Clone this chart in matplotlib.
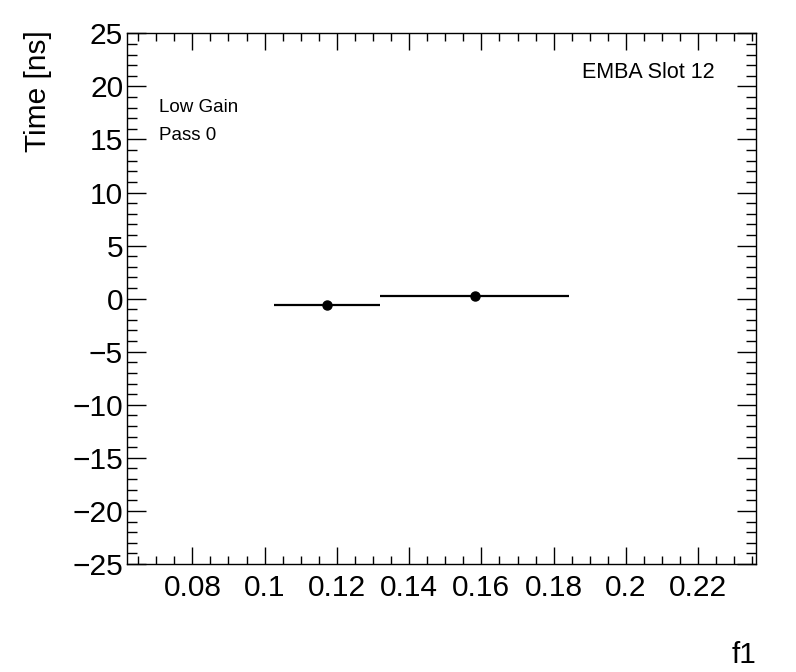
import matplotlib
matplotlib.use("Agg")
import matplotlib.pyplot as plt
from matplotlib.ticker import MultipleLocator

plt.rcParams['font.family'] = ['Liberation Sans', 'DejaVu Sans']

# data
x_vals = [0.1173, 0.1581]
x_errs = [0.0147, 0.0261]
y_vals = [-0.59, 0.25]

fig = plt.figure(figsize=(7.96, 6.72), dpi=100)
ax = fig.add_axes([127.3 / 796, 1 - 564 / 672, (756 - 127.3) / 796, (564 - 33.3) / 672])

ax.errorbar(x_vals, y_vals, xerr=x_errs, fmt='o', color='black',
            markersize=6.5, elinewidth=1.6, capsize=0)

ax.set_xlim(0.062, 0.236)
ax.set_ylim(-25, 25)

ax.xaxis.set_major_locator(MultipleLocator(0.02))
ax.xaxis.set_minor_locator(MultipleLocator(0.005))
ax.yaxis.set_major_locator(MultipleLocator(5))
ax.yaxis.set_minor_locator(MultipleLocator(1))

ax.tick_params(which='both', direction='in', top=True, right=True,
               width=1, labelsize=21.5, color='black')
ax.tick_params(axis='x', which='major', length=12, pad=7)
ax.tick_params(axis='x', which='minor', length=6)
ax.tick_params(axis='y', which='major', length=14, pad=3)
ax.tick_params(axis='y', which='minor', length=7)

ax.xaxis.set_major_formatter(plt.FuncFormatter(lambda v, p: f"{v:g}"))
ax.yaxis.set_major_formatter(plt.FuncFormatter(lambda v, p: f"{v:g}".replace('-', '\u2212')))

for s in ax.spines.values():
    s.set_linewidth(1)

fig.text(38 / 796, 1 - 30 / 672, "Time [ns]", rotation=90, fontsize=21.5,
         ha='center', va='top')
fig.text(756 / 796, 1 - 655 / 672, "f1", fontsize=21.5, ha='right', va='center')

fig.text(715 / 796, 1 - 73 / 672, "EMBA Slot 12", fontsize=15.5, ha='right', va='center')
fig.text(159 / 796, 1 - 108 / 672, "Low Gain", fontsize=13.5, ha='left', va='center')
fig.text(159 / 796, 1 - 135 / 672, "Pass 0", fontsize=13.5, ha='left', va='center')

fig.savefig("out.png", dpi=100)
